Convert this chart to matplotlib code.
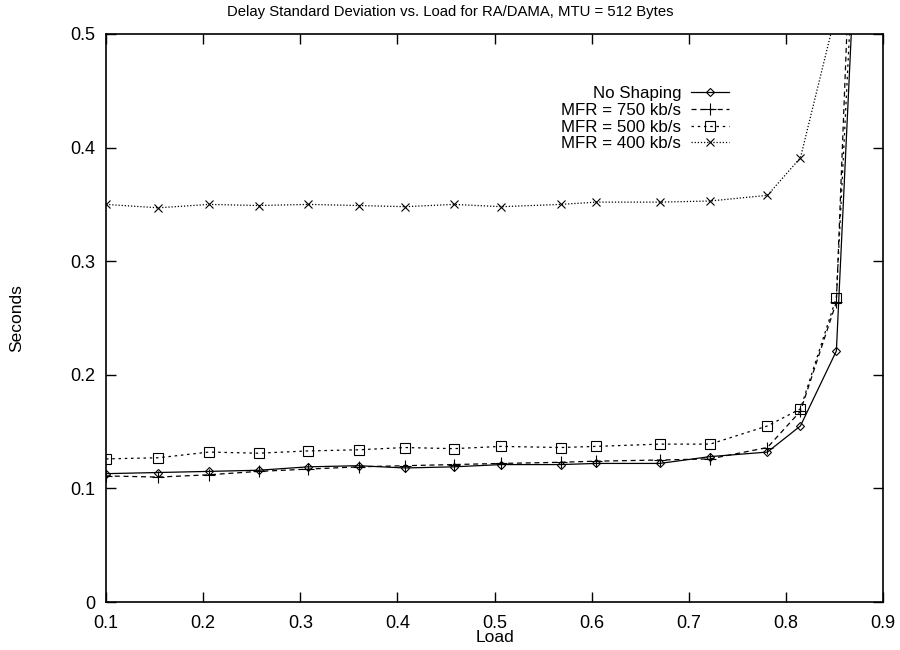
import matplotlib
matplotlib.use("Agg")
import matplotlib.pyplot as plt

plt.rcParams['font.family'] = ['Liberation Sans', 'DejaVu Sans']

load = [0.1, 0.154, 0.206, 0.257, 0.308, 0.36, 0.408, 0.458, 0.507, 0.568,
        0.605, 0.670, 0.722, 0.781, 0.815, 0.852, 0.88]

no_shaping = [0.113, 0.114, 0.115, 0.116, 0.119, 0.120, 0.118, 0.119, 0.121, 0.121,
              0.122, 0.122, 0.128, 0.132, 0.155, 0.221, 0.73]
mfr_750 = [0.111, 0.110, 0.112, 0.115, 0.117, 0.119, 0.120, 0.121, 0.122, 0.123,
           0.124, 0.125, 0.126, 0.136, 0.168, 0.264, 0.88]
mfr_500 = [0.126, 0.127, 0.132, 0.131, 0.133, 0.134, 0.136, 0.135, 0.137, 0.136,
           0.137, 0.139, 0.139, 0.155, 0.170, 0.268, 0.75]
mfr_400 = [0.350, 0.347, 0.350, 0.349, 0.350, 0.349, 0.348, 0.350, 0.348, 0.350,
           0.352, 0.352, 0.353, 0.358, 0.391, 0.52, 1.0]

fig = plt.figure(figsize=(9, 6.5), dpi=100)
ax = fig.add_axes([0.1178, 0.0738, 0.8633, 0.8739])

ax.plot(load, no_shaping, color='black', lw=0.9, ls='-', marker='D', ms=4.5,
        mfc='none', mec='black', mew=0.8, label='No Shaping')
ax.plot(load, mfr_750, color='black', lw=0.9, ls=(0, (4, 3)), marker='+', ms=8,
        mew=0.8, label='MFR = 750 kb/s')
ax.plot(load, mfr_500, color='black', lw=0.9, ls=(0, (2, 3)), marker='s', ms=7,
        mfc='none', mec='black', mew=0.8, label='MFR = 500 kb/s')
ax.plot(load, mfr_400, color='black', lw=0.9, ls=(0, (1, 1.5)), marker='x', ms=6,
        mew=0.8, label='MFR = 400 kb/s')

ax.set_xlim(0.1, 0.9)
ax.set_ylim(0, 0.5)
ax.set_xticks([0.1, 0.2, 0.3, 0.4, 0.5, 0.6, 0.7, 0.8, 0.9])
ax.set_xticklabels(['0.1', '0.2', '0.3', '0.4', '0.5', '0.6', '0.7', '0.8', '0.9'])
ax.set_yticks([0, 0.1, 0.2, 0.3, 0.4, 0.5])
ax.set_yticklabels(['0', '0.1', '0.2', '0.3', '0.4', '0.5'])
ax.tick_params(direction='in', length=7, width=1, top=True, right=True,
               labelsize=13)
ax.tick_params(axis='x', pad=9)
ax.tick_params(axis='y', pad=8)
for s in ax.spines.values():
    s.set_linewidth(1.2)

fig.text(0.5, 0.981, 'Delay Standard Deviation vs. Load for RA/DAMA, MTU = 512 Bytes',
         ha='center', va='center', fontsize=10.7)
ax.set_xlabel('Load', fontsize=12.5, va='center')
ax.xaxis.set_label_coords(0.5, -0.063)
ax.set_ylabel('Seconds', fontsize=12.5, va='center')
ax.yaxis.set_label_coords(-0.1145, 0.5)

leg = ax.legend(loc='upper right', bbox_to_anchor=(0.81, 0.92), frameon=False,
                fontsize=12.2, markerfirst=False, handlelength=2.2,
                handletextpad=0.6, labelspacing=0.1, borderaxespad=0)
for t in leg.get_texts():
    t.set_ha('right')
leg._legend_box.align = 'right'

fig.savefig('out.png', dpi=100)
